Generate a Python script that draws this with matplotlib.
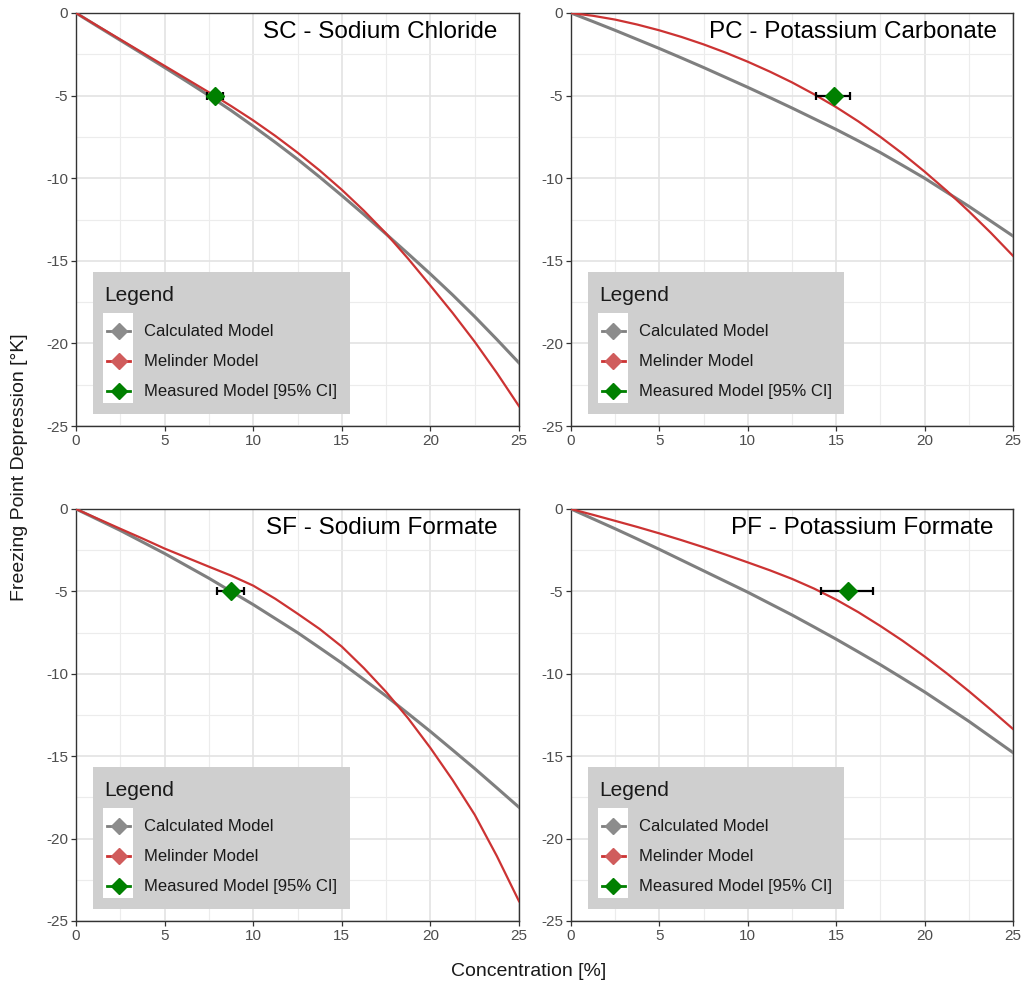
import numpy as np
import matplotlib
matplotlib.use("Agg")
import matplotlib.pyplot as plt
from matplotlib.patches import Rectangle
from matplotlib.lines import Line2D

plt.rcParams['font.family'] = ['Liberation Sans', 'DejaVu Sans']
plt.rcParams['axes.unicode_minus'] = False

# concentration [%] at which the curves were read
conc = [0, 1.25, 2.5, 3.75, 5, 6.25, 7.5, 8.75, 10, 11.25, 12.5,
        13.75, 15, 16.25, 17.5, 18.75, 20, 21.25, 22.5, 23.75, 25]

titles = ["SC - Sodium Chloride", "PC - Potassium Carbonate",
          "SF - Sodium Formate", "PF - Potassium Formate"]

# calculated model (grey)
calc_sc = [0, -0.83, -1.65, -2.47, -3.3, -4.14, -5.0, -5.9, -6.85, -7.83, -8.85,
           -9.93, -11.05, -12.2, -13.38, -14.58, -15.8, -17.06, -18.38, -19.76, -21.18]
calc_pc = [0, -0.52, -1.05, -1.6, -2.15, -2.72, -3.3, -3.9, -4.5, -5.12, -5.75,
           -6.4, -7.05, -7.74, -8.45, -9.22, -10.0, -10.85, -11.7, -12.6, -13.5]
calc_sf = [0, -0.65, -1.3, -2.0, -2.7, -3.45, -4.2, -5.0, -5.8, -6.65, -7.5,
           -8.42, -9.35, -10.35, -11.35, -12.42, -13.5, -14.62, -15.75, -16.92, -18.1]
calc_pf = [0, -0.6, -1.2, -1.82, -2.45, -3.1, -3.75, -4.4, -5.05, -5.74, -6.43,
           -7.16, -7.9, -8.67, -9.45, -10.27, -11.1, -11.99, -12.88, -13.83, -14.78]

# Melinder model (red)
mel_sc = [0, -0.8, -1.6, -2.4, -3.2, -4.0, -4.8, -5.63, -6.5, -7.44, -8.45,
          -9.53, -10.7, -11.97, -13.35, -14.88, -16.5, -18.15, -19.9, -21.79, -23.8]
mel_pc = [0, -0.17, -0.4, -0.7, -1.05, -1.45, -1.9, -2.4, -2.95, -3.55, -4.2,
          -4.92, -5.7, -6.56, -7.5, -8.51, -9.6, -10.76, -12.0, -13.31, -14.7]
mel_sf = [0, -0.6, -1.2, -1.79, -2.4, -2.95, -3.5, -4.04, -4.65, -5.45, -6.35,
          -7.28, -8.35, -9.66, -11.1, -12.71, -14.5, -16.44, -18.55, -21.06, -23.8]
mel_pf = [0, -0.355, -0.72, -1.09, -1.48, -1.89, -2.32, -2.77, -3.24, -3.72, -4.24,
          -4.83, -5.5, -6.26, -7.1, -7.99, -8.95, -9.97, -11.05, -12.18, -13.35]

# measured value with 95% CI on concentration
meas_x = [7.82, 14.86, 8.73, 15.65]
meas_lo = [7.37, 13.88, 7.98, 14.16]
meas_hi = [8.30, 15.76, 9.48, 17.08]
meas_y = [-5, -5, -5, -5]

calc = [calc_sc, calc_pc, calc_sf, calc_pf]
mel = [mel_sc, mel_pc, mel_sf, mel_pf]

col_calc = "#7f7f7f"
col_mel = "#cc3333"
col_meas = "#008000"
legend_labels = ["Calculated Model", "Melinder Model", "Measured Model [95% CI]"]
legend_line = [col_calc, col_mel, col_meas]
legend_mark = ["#8c8c8c", "#d05c5c", "#008000"]

fig = plt.figure(figsize=(10.24, 9.9), dpi=100)
W, H = 1024, 990
boxes = [(76, 13, 519, 426), (571, 13, 1013, 426),
         (76, 509, 519, 921), (571, 509, 1013, 921)]
title_x = [0.951, 0.964, 0.951, 0.957]

for i, (x0, y0, x1, y1) in enumerate(boxes):
    ax = fig.add_axes([x0 / W, 1 - y1 / H, (x1 - x0) / W, (y1 - y0) / H])
    ax.set_xlim(0, 25)
    ax.set_ylim(-25, 0)
    ax.set_xticks([0, 5, 10, 15, 20, 25])
    ax.set_yticks([-25, -20, -15, -10, -5, 0])
    ax.set_xticks([2.5, 7.5, 12.5, 17.5, 22.5], minor=True)
    ax.set_yticks([-22.5, -17.5, -12.5, -7.5, -2.5], minor=True)
    ax.grid(which='major', color="#e3e3e3", lw=1.2)
    ax.grid(which='minor', color="#ececec", lw=0.8)
    ax.set_axisbelow(True)
    ax.tick_params(which='minor', length=0)
    ax.tick_params(which='major', length=3.5, width=0.9, color="#333333",
                   labelsize=11, labelcolor="#4d4d4d", pad=2)
    for s in ax.spines.values():
        s.set_color("#333333")
        s.set_linewidth(1.0)

    ax.plot(conc, calc[i], color=col_calc, lw=2.2, zorder=3)
    ax.plot(conc, mel[i], color=col_mel, lw=1.6, zorder=4)
    ax.errorbar([meas_x[i]], [meas_y[i]],
                xerr=[[meas_x[i] - meas_lo[i]], [meas_hi[i] - meas_x[i]]],
                fmt='none', ecolor='black', elinewidth=1.6, capsize=3,
                capthick=1.6, zorder=5)
    ax.plot([meas_x[i]], [meas_y[i]], marker='D', ms=9.5, color=col_meas,
            ls='none', zorder=6)

    ax.text(title_x[i], 0.954, titles[i], transform=ax.transAxes, ha='right',
            va='center', fontsize=17.5, color='black')

    # ggplot-style legend box
    ax.add_patch(Rectangle((0.038, 0.029), 0.58, 0.344, transform=ax.transAxes,
                           facecolor="#cfcfcf", edgecolor='none', zorder=7))
    ax.add_patch(Rectangle((0.061, 0.056), 0.068, 0.218, transform=ax.transAxes,
                           facecolor="white", edgecolor='none', zorder=8))
    ax.text(0.063, 0.317, "Legend", transform=ax.transAxes, ha='left',
            va='center', fontsize=15, color="#1a1a1a", zorder=9)
    for k, yk in enumerate([0.230, 0.157, 0.0847]):
        ax.add_line(Line2D([0.07, 0.122], [yk, yk], transform=ax.transAxes,
                           color=legend_line[k], lw=2.0, zorder=9))
        ax.add_line(Line2D([0.096], [yk], transform=ax.transAxes, marker='D',
                           ms=8.5, color=legend_mark[k], zorder=10))
        ax.text(0.1535, yk, legend_labels[k], transform=ax.transAxes,
                ha='left', va='center', fontsize=12, color="#1a1a1a", zorder=9)

fig.text(529 / W, 1 - 972 / H, "Concentration [%]", ha='center', va='center',
         fontsize=14, color="#1a1a1a")
fig.text(20 / W, 1 - 467 / H, "Freezing Point Depression [°K]", ha='center',
         va='center', rotation=90, fontsize=14, color="#1a1a1a")

fig.savefig("out.png", dpi=100, facecolor='white')
